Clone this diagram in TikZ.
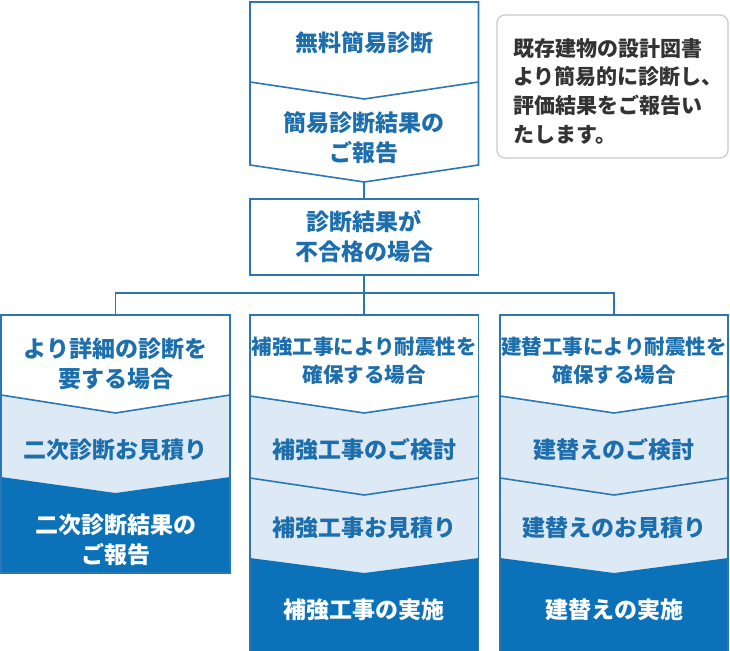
\documentclass[tikz,border=0pt]{standalone}
\usepackage{fontspec}
\setmainfont{Noto Sans CJK JP}
\definecolor{bl}{HTML}{1C6EAD}
\definecolor{bline}{HTML}{2A77B3}
\definecolor{lt}{HTML}{DDEAF5}
\definecolor{dk}{HTML}{0B71B8}
\definecolor{gr}{HTML}{333333}
\definecolor{gb}{HTML}{CCCCCC}
\begin{document}
\begin{tikzpicture}[x=1pt,y=-1pt,
  lbl/.style={text=bl, font=\bfseries\fontsize{23}{30}\selectfont, align=center, inner sep=0pt},
  lblsm/.style={lbl, font=\bfseries\fontsize{20.5}{28}\selectfont},
  lblw/.style={lbl, text=white},
  conn/.style={draw=bline, line width=1.6pt},
]
\useasboundingbox (0,0) rectangle (730,650);
\fill[white] (0,0) rectangle (730,650);

% ---- top column
\draw[conn] (250,2) -- (478.5,2) -- (478.5,165) -- (364.25,182) -- (250,165) -- cycle;
\draw[conn] (250,82) -- (364.25,99) -- (478.5,82);
\node[lbl] (free) at (364.25,43) {無料簡易診断};
\node[lbl] (report) at (364.25,138) {簡易診断結果の\\ご報告};
\coordinate (topbot) at (364.25,182);

% ---- note
\draw[gb, line width=1.3pt, rounded corners=8pt] (497,15) rectangle (728,158);
\node[anchor=west, align=left, text=gr, inner sep=0pt,
  font=\bfseries\fontsize{21}{28.6}\selectfont] (note) at (513,91)
  {既存建物の設計図書\\より簡易的に診断し、\\評価結果をご報告い\\たします。};

% ---- result box
\node[lbl, draw=bline, line width=1.6pt, minimum width=228.5pt, minimum height=76pt] (res) at (364.25,237) {診断結果が\\不合格の場合};
\draw[conn] (topbot) -- (res.north);

% ---- branch
\coordinate (hub) at (364.25,293);
\coordinate (lefttop) at (115.5,315);
\coordinate (midtop) at (364.25,315);
\coordinate (righttop) at (614,315);
\draw[conn] (res.south) -- (hub);
\draw[conn] (hub) -- (midtop);
\draw[conn] (lefttop) |- (hub) -| (righttop);

% ---- left column
\fill[lt] (1,395) -- (115.5,413) -- (230,395) -- (230,477) -- (115.5,493) -- (1,477) -- cycle;
\fill[dk] (1,477) -- (115.5,493) -- (230,477) -- (230,573) -- (1,573) -- cycle;
\draw[conn] (1,315) rectangle (230,573);
\draw[conn] (1,395) -- (115.5,413) -- (230,395);
\node[lbl] (l1) at (115.5,364) {より詳細の診断を\\要する場合};
\node[lbl] (l2) at (115.5,450) {二次診断お見積り};
\node[lblw] (l3) at (115.5,540) {二次診断結果の\\ご報告};

% ---- middle and right columns
\foreach \L/\R in {250/478.5, 500/728}{
  \pgfmathsetmacro\C{(\L+\R)/2}
  \fill[lt] (\L,396) -- (\C,413) -- (\R,396) -- (\R,558) -- (\C,573) -- (\L,558) -- cycle;
  \fill[dk] (\L,558) -- (\C,573) -- (\R,558) -- (\R,652) -- (\L,652) -- cycle;
  \draw[conn] (\L,653) -- (\L,315) -- (\R,315) -- (\R,653);
  \draw[conn] (\L,396) -- (\C,413) -- (\R,396);
  \draw[conn] (\L,478) -- (\C,495) -- (\R,478);
}
\node[lblsm] (m1) at (364.25,361) {補強工事により耐震性を\\確保する場合};
\node[lbl] (m2) at (364.25,450) {補強工事のご検討};
\node[lbl] (m3) at (364.25,528) {補強工事お見積り};
\node[lblw] (m4) at (364.25,610) {補強工事の実施};

\node[lblsm] (r1) at (614,361) {建替工事により耐震性を\\確保する場合};
\node[lbl] (r2) at (614,450) {建替えのご検討};
\node[lbl] (r3) at (614,528) {建替えのお見積り};
\node[lblw] (r4) at (614,610) {建替えの実施};
\end{tikzpicture}
\end{document}
